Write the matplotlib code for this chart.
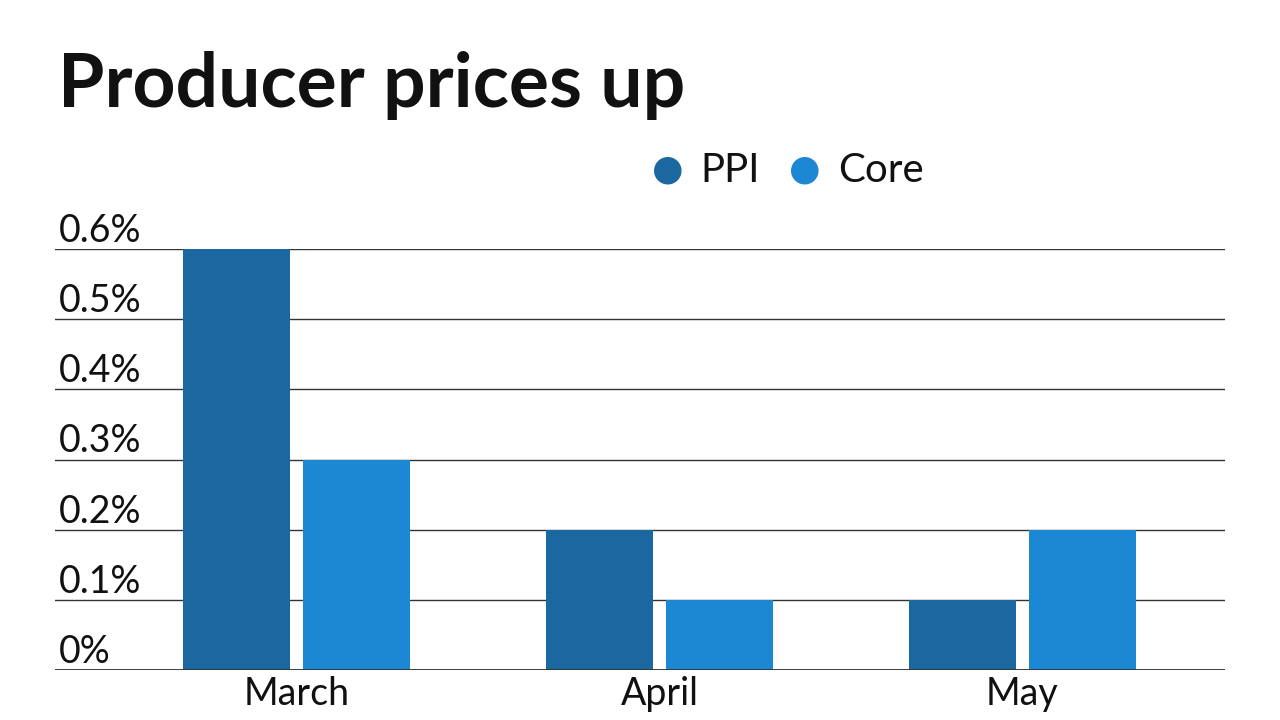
import matplotlib.pyplot as plt
import numpy as np

plt.rcParams['font.family'] = ['Lato', 'DejaVu Sans']

months = ['March', 'April', 'May']
ppi = [0.6, 0.2, 0.1]
core = [0.3, 0.1, 0.2]
yticks = [0, 0.1, 0.2, 0.3, 0.4, 0.5, 0.6]
ytick_labels = ['0%', '0.1%', '0.2%', '0.3%', '0.4%', '0.5%', '0.6%']

ppi_color = '#1b67a0'
core_color = '#1c87d2'

fig = plt.figure(figsize=(12.8, 7.2), dpi=100)
ax = fig.add_axes([55 / 1280, 50 / 720, 1170 / 1280, 421 / 720])

x = np.arange(len(months))
w = 0.295
off = 0.165
ax.bar(x - off, ppi, width=w, color=ppi_color, zorder=2)
ax.bar(x + off, core, width=w, color=core_color, zorder=2)

ax.set_xlim(-0.665, 2.558)
ax.set_ylim(0, 0.6)

# gridlines with labels sitting above them
for v, lab in zip(yticks, ytick_labels):
    ax.axhline(v, color='#333333', lw=1.0, zorder=1)
    ax.text(0.003, v, lab, transform=ax.get_yaxis_transform(),
            fontsize=27, color='#111111', va='bottom', ha='left')
ax.axhline(0, color='#333333', lw=1.3, zorder=3)

for s in ax.spines.values():
    s.set_visible(False)
ax.set_yticks([])
ax.set_xticks(x)
ax.set_xticklabels(months, fontsize=27, color='#111111')
ax.tick_params(axis='x', length=0, pad=4)

fig.text(58 / 1280, 1 - 86 / 720, 'Producer prices up', fontsize=54,
         fontweight='bold', va='center', ha='left', color='#111111')

# legend
fig.text(668 / 1280, 1 - 170 / 720, '\u25cf', fontsize=26, color=ppi_color,
         va='center', ha='center', family='DejaVu Sans')
fig.text(700 / 1280, 1 - 170 / 720, 'PPI', fontsize=29, va='center', ha='left', color='#111111')
fig.text(805 / 1280, 1 - 170 / 720, '\u25cf', fontsize=26, color=core_color,
         va='center', ha='center', family='DejaVu Sans')
fig.text(838 / 1280, 1 - 170 / 720, 'Core', fontsize=29, va='center', ha='left', color='#111111')

plt.savefig('out.png', dpi=100)
